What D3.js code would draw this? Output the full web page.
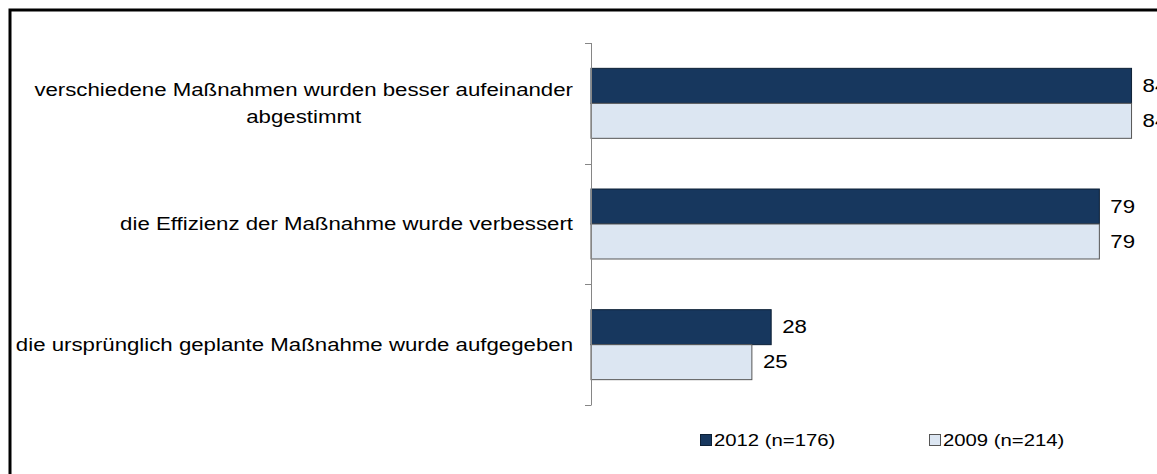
<!DOCTYPE html>
<html lang="de">
  <head>
    <meta charset="UTF-8" />
    <title>Maßnahmen 2012 / 2009</title>
    <script src="https://d3js.org/d3.v7.min.js"></script>
    <style>
      body { margin: 0; background: #fff; overflow: hidden; }
      text { font-family: "Liberation Sans", Arial, sans-serif; fill: #000; }
    </style>
  </head>
  <body></body>
  <script>
    var categories = [
      ["verschiedene Maßnahmen wurden besser aufeinander", "abgestimmt"],
      ["die Effizienz der Maßnahme wurde verbessert"],
      ["die ursprünglich geplante Maßnahme wurde aufgegeben"]
    ];
    var seriesNames = ["2012 (n=176)", "2009 (n=214)"];
    var values2012 = [84, 79, 28];
    var values2009 = [84, 79, 25];

    var W = 1157, H = 474;
    var fontSize = 17.5, stretch = 1.27; // Bild ist horizontal gestreckt
    var colors = ["#17375E", "#DCE6F2"];
    var strokes = ["#0d2036", "#555555"];

    var svg = d3.select("body").append("svg").attr("width", W).attr("height", H);

    // Rahmen (rechts und unten abgeschnitten)
    svg.append("rect")
      .attr("x", 10).attr("y", 10)
      .attr("width", 1300).attr("height", 600)
      .attr("fill", "none").attr("stroke", "#000").attr("stroke-width", 3);

    var keys = categories.map((c, i) => "c" + i);
    var x = d3.scaleLinear().domain([0, 100]).range([591, 591 + 643.5]);
    var y = d3.scaleBand().domain(keys).range([43, 405]).paddingInner(0.42).paddingOuter(0.21);
    var ySub = d3.scaleBand().domain([0, 1]).range([0, y.bandwidth()]);

    function sText(g, str, px, py, anchor, size) {
      return g.append("text")
        .attr("font-size", size || fontSize)
        .attr("dy", "0.35em")
        .attr("text-anchor", anchor || "start")
        .attr("transform", "translate(" + px + "," + py + ") scale(" + stretch + ",1)")
        .text(str);
    }

    // Balken
    var data = keys.map((k, i) => ({ key: k, vals: [values2012[i], values2009[i]] }));
    var groups = svg.append("g").selectAll("g").data(data).join("g")
      .attr("transform", d => "translate(0," + y(d.key) + ")");

    groups.selectAll("rect").data(d => d.vals).join("rect")
      .attr("x", x(0))
      .attr("y", (v, j) => ySub(j))
      .attr("width", v => x(v) - x(0))
      .attr("height", ySub.bandwidth())
      .attr("fill", (v, j) => colors[j])
      .attr("stroke", (v, j) => strokes[j])
      .attr("stroke-width", 1);

    groups.each(function (d) {
      var g = d3.select(this);
      d.vals.forEach(function (v, j) {
        sText(g, v, x(v) + 11, ySub(j) + ySub.bandwidth() / 2);
      });
    });

    // Achse
    var ax = svg.append("g").attr("stroke", "#868686").attr("stroke-width", 1);
    ax.append("line")
      .attr("x1", x(0) + 0.5).attr("x2", x(0) + 0.5)
      .attr("y1", y.range()[0]).attr("y2", y.range()[1]);
    d3.range(keys.length + 1).forEach(function (i) {
      var yy = Math.round(y.range()[0] + i * y.step()) + 0.5;
      ax.append("line").attr("x1", x(0) - 6).attr("x2", x(0) + 0.5).attr("y1", yy).attr("y2", yy);
    });

    // Kategorienbeschriftung
    var labelRight = 573, lineH = 27;
    categories.forEach(function (lines, i) {
      var cy = y(keys[i]) + y.bandwidth() / 2;
      var g = svg.append("g");
      var texts = lines.map(function (l, k) {
        return sText(g, l, 0, cy + (k - (lines.length - 1) / 2) * lineH, "middle");
      });
      var widths = texts.map(t => t.node().getComputedTextLength() * stretch);
      var center = labelRight - d3.max(widths) / 2;
      texts.forEach(function (t, k) {
        var yy = cy + (k - (lines.length - 1) / 2) * lineH;
        t.attr("transform", "translate(" + center + "," + yy + ") scale(" + stretch + ",1)");
      });
    });

    // Legende
    var legendX = [700, 929];
    var leg = svg.append("g");
    seriesNames.forEach(function (name, j) {
      leg.append("rect")
        .attr("x", legendX[j] + 0.5).attr("y", 434.5)
        .attr("width", 11).attr("height", 11)
        .attr("fill", colors[j]).attr("stroke", strokes[j]);
      sText(leg, name, legendX[j] + 14, 440.5, "start", 16);
    });
  </script>
</html>
